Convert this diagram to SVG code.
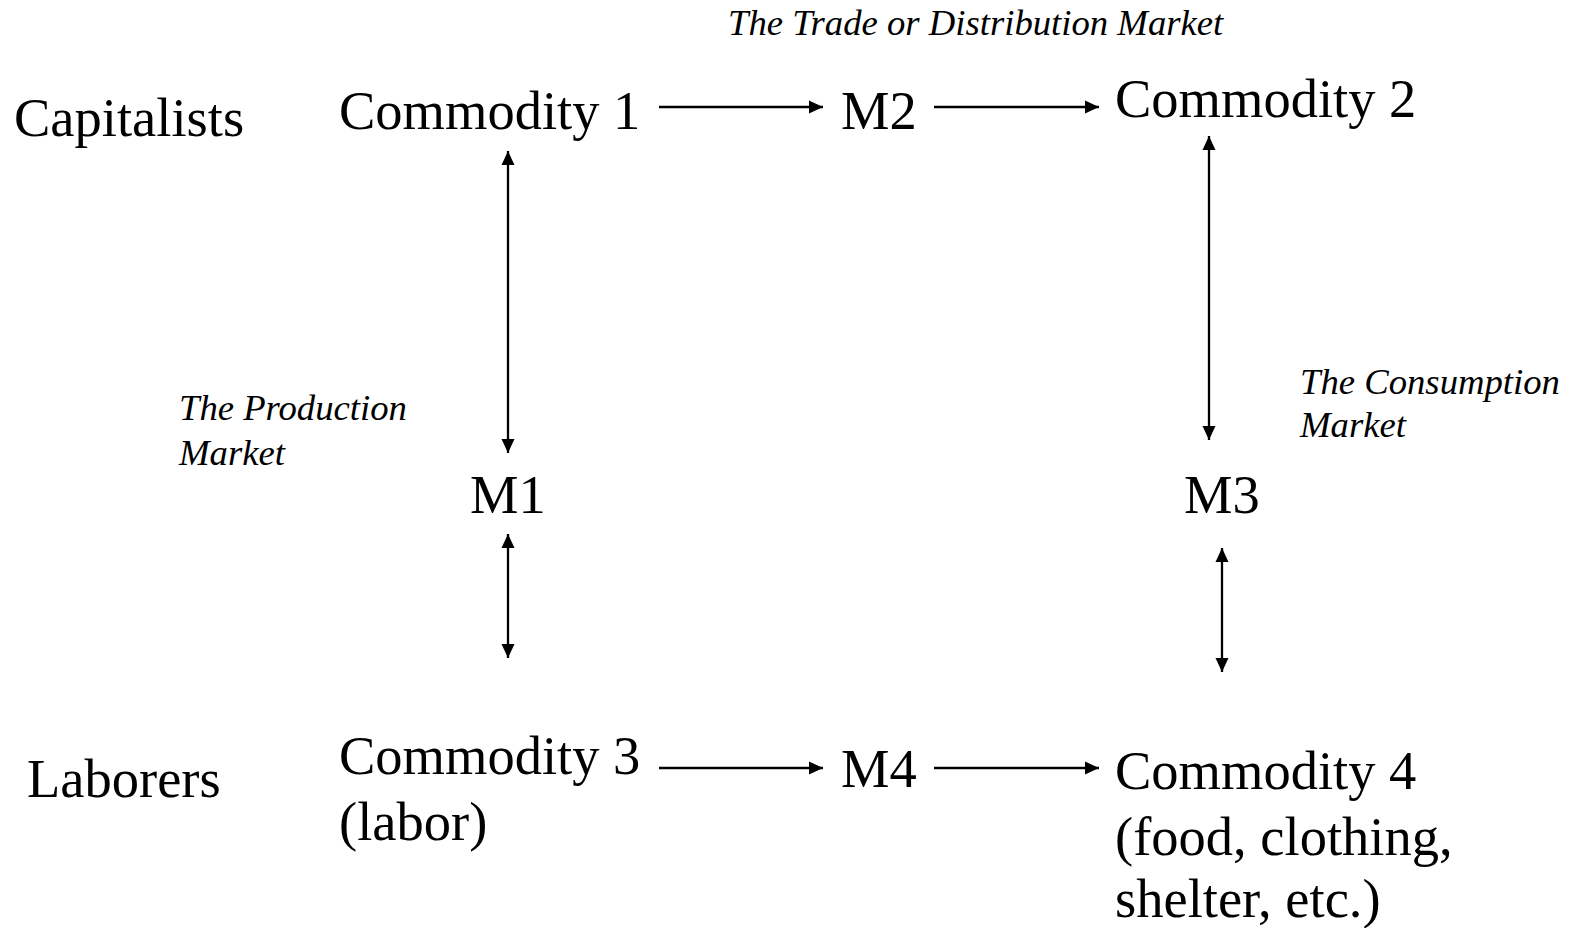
<svg xmlns="http://www.w3.org/2000/svg" width="1577" height="928" viewBox="0 0 1577 928">
<defs>
<marker id="ah" viewBox="0 0 14 14" refX="14" refY="7" markerWidth="14" markerHeight="14" markerUnits="userSpaceOnUse" orient="auto-start-reverse">
<path d="M0,0.5 L14,7 L0,13.5 Z" fill="#000"/>
</marker>
<style>
.t{font-family:"Liberation Serif","Times New Roman",serif;font-size:54.5px;fill:#000}
.i{font-family:"Liberation Serif","Times New Roman",serif;font-size:36.7px;font-style:italic;fill:#000}
.c{stroke:#000;stroke-width:2.3;fill:none}
.one{marker-end:url(#ah)}
.two{marker-start:url(#ah);marker-end:url(#ah)}
</style>
</defs>
<rect width="1577" height="928" fill="#fff"/>
<g id="label-trade"><text class="i" x="728" y="35">The Trade or Distribution Market</text></g>
<g id="label-capitalists"><text class="t" x="14" y="136">Capitalists</text></g>
<g id="commodity1"><text class="t" x="339" y="129">Commodity 1</text></g>
<g id="m2"><text class="t" x="841" y="129">M2</text></g>
<g id="commodity2"><text class="t" x="1115" y="117">Commodity 2</text></g>
<g id="label-production"><text class="i" x="179" y="420">The Production</text><text class="i" x="179" y="465">Market</text></g>
<g id="m1"><text class="t" x="470" y="513">M1</text></g>
<g id="label-consumption"><text class="i" x="1300" y="394">The Consumption</text><text class="i" x="1300" y="437">Market</text></g>
<g id="m3"><text class="t" x="1184" y="513">M3</text></g>
<g id="label-laborers"><text class="t" x="27" y="797">Laborers</text></g>
<g id="commodity3"><text class="t" x="339" y="774">Commodity 3</text><text class="t" x="339" y="840">(labor)</text></g>
<g id="m4"><text class="t" x="841" y="787">M4</text></g>
<g id="commodity4"><text class="t" x="1115" y="789">Commodity 4</text><text class="t" x="1115" y="855">(food, clothing,</text><text class="t" x="1115" y="917">shelter, etc.)</text></g>
<g id="connectors">
<line class="c one" x1="659" y1="107" x2="823" y2="107"/>
<line class="c one" x1="934" y1="107" x2="1099" y2="107"/>
<line class="c two" x1="508" y1="151" x2="508" y2="453"/>
<line class="c two" x1="508" y1="534" x2="508" y2="658"/>
<line class="c two" x1="1209" y1="136" x2="1209" y2="440"/>
<line class="c two" x1="1222" y1="548" x2="1222" y2="672"/>
<line class="c one" x1="659" y1="768" x2="823" y2="768"/>
<line class="c one" x1="934" y1="768" x2="1099" y2="768"/>
</g>
</svg>
